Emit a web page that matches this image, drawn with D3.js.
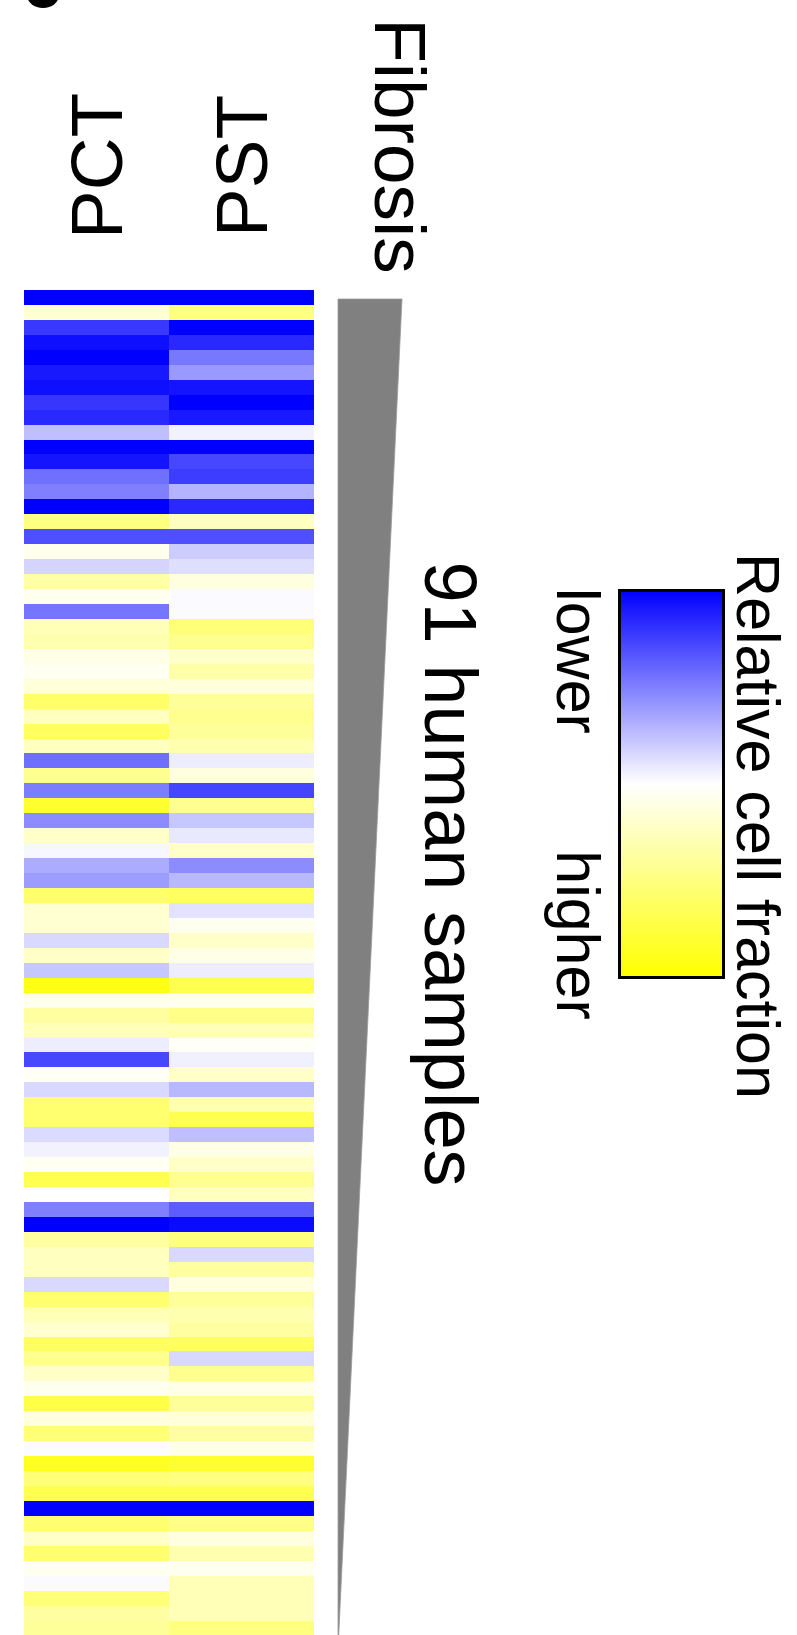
<!DOCTYPE html>
<html>
<head>
<meta charset="utf-8">
<script src="https://cdn.jsdelivr.net/npm/d3@7"></script>
<style>
  body { margin: 0; background: white; }
  svg { display: block; }
  text { font-family: "Liberation Sans", Arial, sans-serif; fill: black; }
</style>
</head>
<body>
<div id="heatmap"></div>
<script>
// cell types (heatmap columns)
var cellTypes = ["PCT", "PST"]
var sampleCount = 91

// relative cell fraction per sample, -1 = lower (blue) ... 1 = higher (yellow)
// samples ordered by fibrosis, the 91st sample falls below the crop of the figure
var pctValues = [
  -1, 0.17, -0.78, -0.94, -1, -0.9, -0.94, -0.79, -0.84, -0.25,
  -1, -0.92, -0.56, -0.5, -1, 0.5, -0.69, 0.06, -0.17, 0.34,
  0.06, -0.54, 0.28, 0.31, 0.09, 0.05, 0.15, 0.59, 0.25, 0.62,
  0.25, -0.57, 0.44, -0.51, 0.81, -0.45, 0.22, -0.03, -0.33, -0.39,
  0.59, 0.18, 0.18, -0.15, 0.22, -0.22, 0.92, 0.07, 0.37, 0.28,
  -0.07, -0.72, 0.04, -0.15, 0.56, 0.56, -0.14, -0.05, 0.05, 0.69,
  0.0, -0.5, -1, 0.37, 0.25, 0.25, -0.15, 0.56, 0.28, 0.18,
  0.62, 0.44, 0.22, 0.06, 0.72, 0.12, 0.53, -0.01, 0.87, 0.53,
  0.69, -1, 0.56, 0.22, 0.56, 0.06, -0.02, 0.53, 0.37, 0.4
]
var pstValues = [
  -1, 0.5, -1, -0.84, -0.53, -0.4, -0.92, -1, -0.9, -0.05,
  -1, -0.72, -0.76, -0.3, -0.84, 0.25, -0.69, -0.2, -0.13, 0.12,
  -0.02, -0.02, 0.53, 0.44, 0.2, 0.34, 0.15, 0.4, 0.44, 0.4,
  0.31, -0.07, 0.12, -0.73, 0.44, -0.22, -0.09, 0.22, -0.45, -0.28,
  0.62, -0.11, 0.06, 0.22, 0.09, -0.07, 0.69, 0.07, 0.47, 0.28,
  0.03, -0.06, 0.22, -0.28, 0.31, 0.69, -0.25, 0.09, 0.22, 0.44,
  0.25, -0.64, -0.96, 0.5, -0.15, 0.37, 0.12, 0.4, 0.31, 0.37,
  0.62, -0.15, 0.44, 0.09, 0.4, 0.15, 0.37, 0.09, 0.81, 0.5,
  0.69, -1, 0.47, 0.12, 0.31, 0.06, 0.28, 0.28, 0.28, 0.5
]

// fibrosis wedge: highest at first sample, lowest at last
var fibrosisLevels = [1, 0]

var legendStops = [-1, 0, 1]
var legendLabels = ["lower", "higher"]

function drawHeatmap() {
  var dimensions = {
    width: 797,
    height: 1635,
    rowHeight: 14.95,
    top: 290,
    left: 24,
    right: 314
  }

  var data = []
  pctValues.forEach((v, i) => data.push({sample: i, cell: "PCT", value: v}))
  pstValues.forEach((v, i) => data.push({sample: i, cell: "PST", value: v}))

  var colorScale = d3.scaleLinear()
    .domain(legendStops)
    .range(["#0000ff", "#ffffff", "#ffff00"])

  var xScale = d3.scaleBand()
    .domain(cellTypes)
    .range([dimensions.left, dimensions.right])

  var yScale = d3.scaleBand()
    .domain(d3.range(sampleCount))
    .range([dimensions.top, dimensions.top + sampleCount * dimensions.rowHeight])

  var wrapper = d3.select("#heatmap")
    .append("svg")
    .attr("width", dimensions.width)
    .attr("height", dimensions.height)

  // cropped panel letter at the very top
  wrapper.append("ellipse")
    .attr("cx", 43)
    .attr("cy", -5)
    .attr("rx", 16)
    .attr("ry", 13)
    .attr("fill", "black")

  wrapper.append("g")
    .selectAll("rect")
    .data(data)
    .enter()
    .append("rect")
    .attr("x", d => xScale(d.cell))
    .attr("y", d => yScale(d.sample))
    .attr("width", xScale.bandwidth())
    .attr("height", yScale.bandwidth() + 0.3)
    .attr("fill", d => colorScale(d.value))
    .attr("shape-rendering", "crispEdges")

  // column labels
  wrapper.selectAll(".col-label")
    .data(cellTypes)
    .enter()
    .append("text")
    .attr("class", "col-label")
    .attr("transform", d => `translate(${xScale(d) + xScale.bandwidth() / 2 + 25}, 166) rotate(-90)`)
    .attr("text-anchor", "middle")
    .style("font-size", "73px")
    .text(d => d)

  // fibrosis wedge
  var wedgeTop = yScale(0) + 9
  var wedgeBottom = yScale.range()[1]
  var fibrosisY = d3.scaleLinear()
    .domain([0, fibrosisLevels.length - 1])
    .range([wedgeTop, wedgeBottom])
  var fibrosisWidth = d3.scaleLinear()
    .domain([0, 1])
    .range([0, 64])
  var wedgeLeft = 338

  var area = d3.area()
    .y((d, i) => fibrosisY(i))
    .x0(wedgeLeft)
    .x1(d => wedgeLeft + fibrosisWidth(d))

  wrapper.append("path")
    .datum(fibrosisLevels)
    .attr("d", area)
    .attr("fill", "#808080")
    .attr("stroke", "#9a9a9a")
    .attr("stroke-width", 0.8)

  wrapper.append("text")
    .attr("transform", "translate(375, 146) rotate(90)")
    .attr("text-anchor", "middle")
    .style("font-size", "73px")
    .text("Fibrosis")

  wrapper.append("text")
    .attr("transform", "translate(425, 874) rotate(90)")
    .attr("text-anchor", "middle")
    .style("font-size", "74px")
    .text(sampleCount + " human samples")

  // legend
  var defs = wrapper.append("defs")
  var gradient = defs.append("linearGradient")
    .attr("id", "legend-gradient")
    .attr("x1", 0).attr("y1", 0)
    .attr("x2", 0).attr("y2", 1)
  gradient.selectAll("stop")
    .data(legendStops)
    .enter()
    .append("stop")
    .attr("offset", (d, i) => i / (legendStops.length - 1))
    .attr("stop-color", d => colorScale(d))

  var legendBox = {x: 619.5, y: 590.5, width: 104, height: 387}
  wrapper.append("rect")
    .attr("x", legendBox.x)
    .attr("y", legendBox.y)
    .attr("width", legendBox.width)
    .attr("height", legendBox.height)
    .attr("fill", "url(#legend-gradient)")
    .attr("stroke", "black")
    .attr("stroke-width", 3)

  var legendLabelY = [661, 935]
  wrapper.selectAll(".legend-label")
    .data(legendLabels)
    .enter()
    .append("text")
    .attr("class", "legend-label")
    .attr("transform", (d, i) => `translate(557, ${legendLabelY[i]}) rotate(90)`)
    .attr("text-anchor", "middle")
    .style("font-size", "61px")
    .text(d => d)

  wrapper.append("text")
    .attr("transform", "translate(737, 826) rotate(90)")
    .attr("text-anchor", "middle")
    .style("font-size", "61px")
    .text("Relative cell fraction")
}
drawHeatmap()
</script>
</body>
</html>
